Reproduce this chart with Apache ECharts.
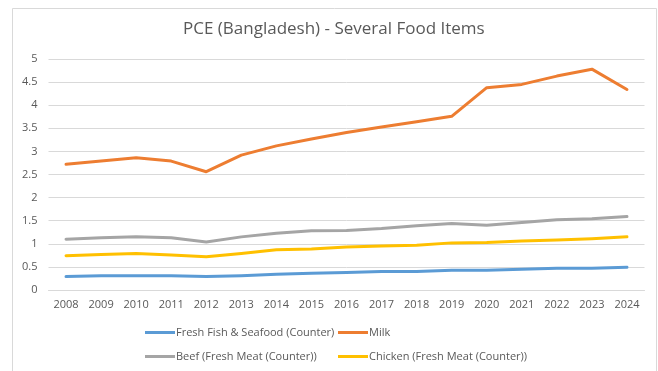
<!DOCTYPE html>
<html>
<head>
<meta charset="utf-8">
<script src="https://cdn.jsdelivr.net/npm/echarts@6/dist/echarts.min.js"></script>
<style>
  html, body { margin: 0; padding: 0; background: #fff; }
  #chart { width: 658px; height: 371px; }
</style>
</head>
<body>
<div id="chart"></div>
<script>
// Years on the category axis
const years = ['2008','2009','2010','2011','2012','2013','2014','2015','2016',
               '2017','2018','2019','2020','2021','2022','2023','2024'];

// Per-capita expenditure by item
const fishSeafood = [0.29,0.31,0.31,0.31,0.29,0.31,0.34,0.36,0.38,0.40,0.40,0.43,0.43,0.45,0.47,0.47,0.49];
const milk        = [2.72,2.79,2.86,2.79,2.56,2.92,3.12,3.27,3.41,3.53,3.64,3.76,4.38,4.45,4.63,4.78,4.34];
const beef        = [1.10,1.13,1.15,1.13,1.04,1.15,1.23,1.28,1.29,1.33,1.39,1.44,1.40,1.46,1.52,1.54,1.59];
const chicken     = [0.74,0.77,0.79,0.76,0.72,0.79,0.87,0.89,0.93,0.95,0.97,1.02,1.03,1.06,1.08,1.11,1.15];

const seriesNames = [
  'Fresh Fish & Seafood (Counter)',
  'Milk',
  'Beef (Fresh Meat (Counter))',
  'Chicken (Fresh Meat (Counter))'
];
const colors = ['#5B9BD5', '#ED7D31', '#A5A5A5', '#FFC000'];

const FONT = '"Open Sans", "Noto Sans", sans-serif';
const TEXT = '#595959';

// One legend block per entry so the two columns line up
const legendPos = [
  { left: 145, top: 327 },
  { left: 338, top: 327 },
  { left: 145, top: 351 },
  { left: 338, top: 351 }
];
const legends = seriesNames.map((name, i) => ({
  data: [name],
  left: legendPos[i].left,
  top: legendPos[i].top,
  padding: 0,
  icon: 'rect',
  itemWidth: 30,
  itemHeight: 3,
  selectedMode: false,
  textStyle: { color: TEXT, fontSize: 11, fontFamily: FONT, padding: [0, 0, 0, -4] }
}));

const chart = echarts.init(document.getElementById('chart'), null, { renderer: 'canvas' });

chart.setOption({
  animation: false,
  backgroundColor: '#ffffff',
  color: colors,
  title: {
    text: 'PCE (Bangladesh) - Several Food Items',
    left: 183,
    top: 21,
    padding: 0,
    textStyle: { color: TEXT, fontSize: 17, fontWeight: 'normal', fontFamily: FONT }
  },
  graphic: [{
    type: 'rect',
    shape: { x: 12.5, y: 8.5, width: 644, height: 380 },
    style: { fill: 'none', stroke: '#d9d9d9', lineWidth: 1 },
    silent: true,
    z: -1
  }],
  legend: legends,
  grid: { left: 48.5, right: 13.5, top: 59, bottom: 81, containLabel: false },
  xAxis: {
    type: 'category',
    data: years,
    boundaryGap: true,
    axisLine: { show: true, lineStyle: { color: '#d9d9d9', width: 1 } },
    axisTick: { show: false },
    axisLabel: { color: TEXT, fontSize: 11, fontFamily: FONT, margin: 9, interval: 0 }
  },
  yAxis: {
    type: 'value',
    min: 0,
    max: 5,
    interval: 0.5,
    axisLine: { show: false },
    axisTick: { show: false },
    splitLine: { lineStyle: { color: '#d9d9d9', width: 1 } },
    axisLabel: { color: TEXT, fontSize: 11, fontFamily: FONT, margin: 11 }
  },
  series: [fishSeafood, milk, beef, chicken].map((d, i) => ({
    name: seriesNames[i],
    type: 'line',
    data: d,
    symbol: 'none',
    smooth: false,
    lineStyle: { width: 3, color: colors[i], cap: 'round', join: 'round' },
    itemStyle: { color: colors[i] }
  }))
});
</script>
</body>
</html>
